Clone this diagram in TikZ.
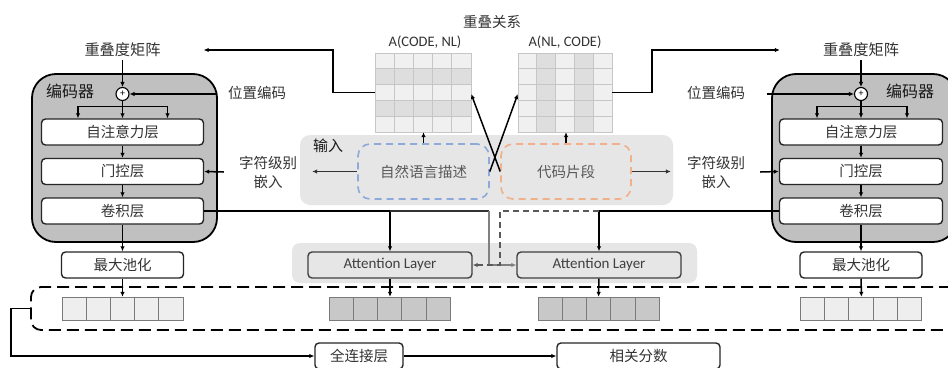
\documentclass[tikz,border=0pt]{standalone}
\usepackage{fontspec}
\setmainfont{Carlito}
\newfontfamily\cjk{Noto Sans CJK SC}
\usetikzlibrary{arrows.meta,calc}

\definecolor{encfill}{HTML}{C0C0C0}
\definecolor{inpfill}{HTML}{E6E6E6}
\definecolor{nlblue}{HTML}{8EAADB}
\definecolor{codeor}{HTML}{F0B08A}
\definecolor{vlight}{HTML}{EEEEEE}
\definecolor{vdark}{HTML}{C8C8C8}
\definecolor{vedge}{HTML}{7A7A7A}
\definecolor{mlight}{HTML}{F0F0F0}
\definecolor{mdark}{HTML}{DEDEDE}
\definecolor{mgrid}{HTML}{C6C6C6}
\definecolor{txt}{HTML}{333333}

\begin{document}
\begin{tikzpicture}[x=1pt,y=-1pt,
  >={Latex[length=5pt,width=4.5pt]},
  lbl/.style={font=\cjk\fontsize{14.5}{19}\selectfont, text=txt, inner sep=0pt, align=center},
  toplbl/.style={lbl, font=\cjk\fontsize{15.2}{19}\selectfont},
  biglbl/.style={font=\cjk\fontsize{16}{19}\selectfont, text=black!90, inner sep=0pt},
  latin/.style={font=\fontsize{14.5}{17}\selectfont, text=txt, inner sep=0pt},
  layer/.style={lbl, draw=black!85, line width=1.4pt, rounded corners=4pt, fill=white, minimum height=26pt},
  encbox/.style={draw=black, line width=1.8pt, fill=encfill, rounded corners=24pt,
    minimum width=185pt, minimum height=168pt, inner sep=0pt},
  plus/.style={circle, draw=black, line width=1.1pt, fill=white, minimum size=13pt, inner sep=0pt,
    font=\fontsize{10}{10}\selectfont},
  inpbox/.style={fill=inpfill, rounded corners=10pt, inner sep=0pt},
  srcbox/.style={lbl, text=black!65, dashed, dash pattern=on 7pt off 5pt, line width=1.6pt,
    rounded corners=12pt, minimum height=55pt},
  attn/.style={latin, font=\fontsize{15}{17}\selectfont, text=black!75, draw=black!75, line width=1.4pt,
    rounded corners=4pt, fill=inpfill, minimum width=164pt, minimum height=26pt},
  strip/.style={minimum height=23pt, inner sep=0pt},
  matbox/.style={minimum width=#1, minimum height=79pt, inner sep=0pt},
  flow/.style={draw=black, line width=1.5pt},
  cellline/.style={draw=vedge, line width=0.9pt},
]
\clip (0,0) rectangle (948,367);
\fill[white] (0,0) rectangle (948,367);

% ---------- encoders ----------
\node[encbox] (encL) at (124.5,158) {};
\node[encbox] (encR) at (864.5,158) {};
\node[biglbl] (encLabL) at (70,91) {编码器};
\node[biglbl] (encLabR) at (910,91) {编码器};

\node[toplbl] (ovlL) at (122.5,50) {重叠度矩阵};
\node[toplbl] (ovlR) at (861,50) {重叠度矩阵};
\node[plus] (plusL) at (122.5,94) {+};
\node[plus] (plusR) at (861,94) {+};
\node[lbl] (posL) at (257,93) {位置编码};
\node[lbl] (posR) at (716,93) {位置编码};

\node[layer, minimum width=162pt] (saL) at (122.5,132) {自注意力层};
\node[layer, minimum width=162pt] (gateL) at (122.5,171.5) {门控层};
\node[layer, minimum width=162pt] (convL) at (122.5,211) {卷积层};
\node[layer, minimum width=122pt] (poolL) at (122.5,265) {最大池化};
\node[layer, minimum width=163pt] (saR) at (861,132) {自注意力层};
\node[layer, minimum width=163pt] (gateR) at (861,171.5) {门控层};
\node[layer, minimum width=163pt] (convR) at (861,211) {卷积层};
\node[layer, minimum width=122pt] (poolR) at (861,265) {最大池化};

\node[lbl] (embL) at (268,172) {字符级别\\嵌入};
\node[lbl] (embR) at (716,172) {字符级别\\嵌入};

% ---------- input ----------
\node[inpbox, minimum width=373pt, minimum height=70pt] (inp) at (486.5,170) {};
\node[biglbl, font=\cjk\fontsize{15}{18}\selectfont] (inpLab) at (328,146) {输入};
\node[srcbox, draw=nlblue, minimum width=131pt] (nlBox) at (423.5,171.5) {自然语言描述};
\node[srcbox, draw=codeor, minimum width=130pt] (codeBox) at (566,171.5) {代码片段};

% ---------- overlap matrices ----------
\node[lbl] (relLab) at (492,22) {重叠关系};
\node[matbox=96pt] (matL) at (423,92.5) {};
\node[matbox=94pt] (matR) at (565,92.5) {};
\node[latin, anchor=south] (matLabL) at ($(matL.north)+(2,-4)$) {A(CODE, NL)};
\node[latin, anchor=south] (matLabR) at ($(matR.north)+(0,-4)$) {A(NL, CODE)};

% rows of A(CODE, NL)
\fill[mlight] (375,53) rectangle (471,132);
\fill[mdark] (375,68.8) rectangle (471,84.6);
\fill[mdark] (375,100.4) rectangle (471,116.2);
\foreach \i in {1,...,4} {
  \draw[mgrid, line width=0.8pt] ({375+\i*19.2},53) -- ({375+\i*19.2},132);
  \draw[mgrid, line width=0.8pt] (375,{53+\i*15.8}) -- (471,{53+\i*15.8});
}
\draw[mgrid, line width=0.8pt] (375,53) rectangle (471,132);

% columns of A(NL, CODE)
\fill[mlight] (518,53) rectangle (612,132);
\fill[mdark] (536.8,53) rectangle (555.6,132);
\fill[mdark] (574.4,53) rectangle (593.2,132);
\foreach \i in {1,...,4} {
  \draw[mgrid, line width=0.8pt] ({518+\i*18.8},53) -- ({518+\i*18.8},132);
  \draw[mgrid, line width=0.8pt] (518,{53+\i*15.8}) -- (612,{53+\i*15.8});
}
\draw[mgrid, line width=0.8pt] (518,53) rectangle (612,132);

% ---------- attention ----------
\node[inpbox, rounded corners=8pt, minimum width=405pt, minimum height=40pt] (attBg) at (494.5,263) {};
\node[attn] (attL) at (390,265) {Attention Layer};
\node[attn] (attR) at (599,265) {Attention Layer};

% ---------- vectors ----------
\node[strip, minimum width=121pt] (vecL) at (122.5,308.5) {};
\node[strip, minimum width=122pt] (vecM1) at (390,308.5) {};
\node[strip, minimum width=121pt] (vecM2) at (598.5,308.5) {};
\node[strip, minimum width=121pt] (vecR) at (861.5,308.5) {};
\foreach \x in {62,800.5} \foreach \i in {0,...,4}
  \draw[cellline, fill=vlight] ({\x+\i*24.2},297) rectangle ++(24.2,23);
\foreach \x in {329,538} \foreach \i in {0,...,4}
  \draw[cellline, fill=vdark] ({\x+\i*24.3},297) rectangle ++(24.3,23);

\node[draw=black, line width=1.8pt, dash pattern=on 12pt off 6pt, rounded corners=10pt,
  minimum width=930pt, minimum height=43pt, inner sep=0pt] (dashBox) at (496,308.5) {};

% ---------- output ----------
\node[layer, minimum width=88pt] (fcBox) at (359,356) {全连接层};
\node[layer, minimum width=163pt] (scoreBox) at (638.5,356) {相关分数};

% ---------- connectors: encoders ----------
\draw[flow,->] (ovlL.south) ++(0,3) -- (plusL.north);
\draw[flow,->] (ovlR.south) ++(0,3) -- (plusR.north);
\draw[flow,->] ($(posL.west)+(-11,1)$) -- (plusL.east);
\draw[flow,->] ($(posR.east)+(22,1)$) -- (plusR.west);

\draw[flow] (plusL.south) -- ($(saL.north)+(0,-12)$);
\draw[flow] ($(saL.north)+(-44.5,-12)$) -- ++(89.5,0);
\foreach \dx in {-44.5,0,45}
  \draw[flow,->] ($(saL.north)+(\dx,-12)$) -- ($(saL.north)+(\dx,0)$);
\draw[flow] (plusR.south) -- ($(saR.north)+(0,-12)$);
\draw[flow] ($(saR.north)+(-44,-12)$) -- ++(90,0);
\foreach \dx in {-44,0,46}
  \draw[flow,->] ($(saR.north)+(\dx,-12)$) -- ($(saR.north)+(\dx,0)$);

\draw[flow,->] (saL) -- (gateL);
\draw[flow,->] (gateL) -- (convL);
\draw[flow,->] (convL) -- (poolL);
\draw[flow,->] (poolL) -- (vecL);
\draw[flow,->] (saR) -- (gateR);
\draw[flow,->] (gateR) -- (convR);
\draw[flow,->] (convR) -- (poolR);
\draw[flow,->] (poolR) -- (vecR);

% ---------- connectors: input ----------
\draw[flow,->] ($(embL.west)+(-15,0)$) -- (gateL.east);
\draw[flow,->] ($(embR.east)+(15,0)$) -- (gateR.west);
\draw[flow, draw=black!80,->] (nlBox.west) -- ++(-45,0);
\draw[flow, draw=black!80,->] (codeBox.east) -- ++(39,0);

\draw[flow,->] (nlBox.north) -- (nlBox.north |- matL.south);
\draw[flow,->] (codeBox.north) -- (codeBox.north |- matR.south);
\draw[flow,->] (nlBox.east) -- ($(matR.west)+(0,1.5)$);
\draw[flow,->] (codeBox.west) -- ($(matL.east)+(0,1.5)$);

\draw[flow,->] (matL.west) -- ++(-42,0) |- ($(ovlL.east)+(43,0)$);
\draw[flow,->] (matR.east) -- ++(40,0) |- ($(ovlR.west)+(-43,0)$);

% ---------- connectors: attention ----------
\coordinate (jL) at (489,211);
\coordinate (jR) at (500,211);
\draw[flow,->] (convL.east) -| (attL.north);
\draw[draw=black!80, line width=1.2pt] (attL.north |- convL.east) -- (jL);
\draw[draw=black!50, line width=1.5pt,->] (jL) |- (attR.west);
\draw[flow,->] (convR.west) -| (attR.north);
\draw[draw=black!65, line width=1.4pt, dash pattern=on 6pt off 4pt,->] (attR.north |- convR.west) -- (jR) |- (attL.east);

\draw[flow,->] (attL) -- (vecM1);
\draw[flow,->] (attR) -- (vecM2);

% ---------- connectors: output ----------
\draw[flow,->] (dashBox.west) -- ++(-19,0) |- (fcBox.west);
\draw[flow,->] (fcBox) -- (scoreBox);
\end{tikzpicture}
\end{document}
